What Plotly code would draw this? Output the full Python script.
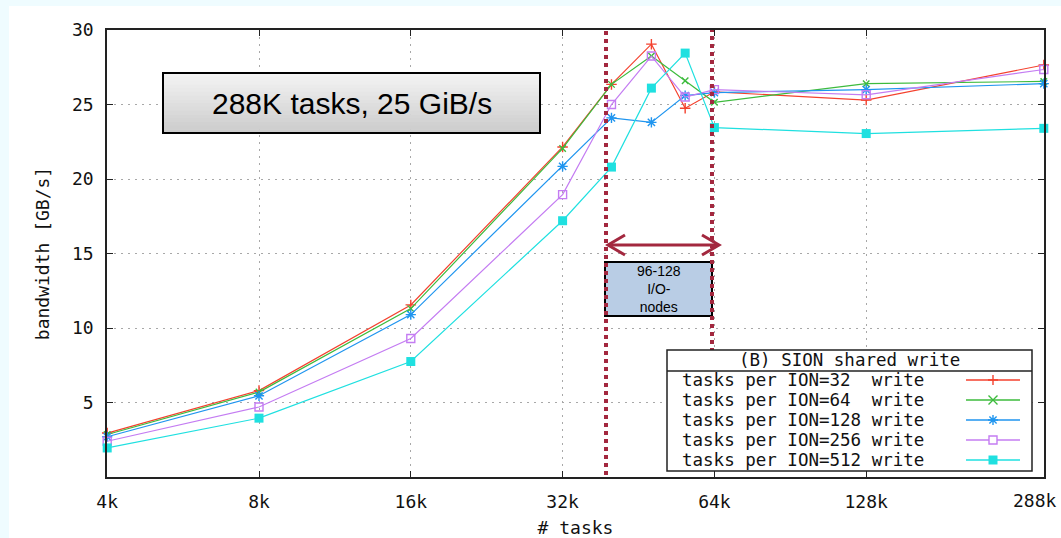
import math
import plotly.graph_objects as go

# ---------------- data ----------------
tasks = [4096, 8192, 16384, 32768, 40960, 49152, 57344, 65536, 131072, 294912]
tick_vals = [4096, 8192, 16384, 32768, 65536, 131072, 294912]
tick_text = ["4k", "8k", "16k", "32k", "64k", "128k", "288k"]
y_tick_vals = [5, 10, 15, 20, 25, 30]

ion32 = [2.95, 5.8, 11.55, 22.15, 26.35, 29.05, 24.75, 25.85, 25.3, 27.65]
ion64 = [2.85, 5.7, 11.3, 22.05, 26.35, 28.25, 26.6, 25.15, 26.4, 26.55]
ion128 = [2.7, 5.45, 10.9, 20.85, 24.1, 23.8, 25.6, 25.8, 26.0, 26.4]
ion256 = [2.4, 4.7, 9.3, 18.95, 25.0, 28.25, 25.5, 26.0, 25.65, 27.35]
ion512 = [1.95, 3.95, 7.75, 17.2, 20.8, 26.1, 28.45, 23.45, 23.05, 23.4]

series_labels = [
    "tasks per ION=32\u00a0\u00a0write",
    "tasks per ION=64\u00a0\u00a0write",
    "tasks per ION=128 write",
    "tasks per ION=256 write",
    "tasks per ION=512 write",
]
legend_title = "(B) SION shared write"
box_text = "288K tasks, 25 GiB/s"
io_text = "96-128<br>I/O-<br>nodes"
x_title = "# tasks"
y_title = "bandwidth [GB/s]"

# ---------------- style ----------------
colors = ["#f4412e", "#3dbb3d", "#1f95ef", "#c47cf2", "#1fe0e0"]
symbols = ["cross-thin-open", "x-thin-open", "asterisk-open", "square-open", "square"]
sizes = [7.5, 6.5, 8.5, 8, 9]
series = [ion32, ion64, ion128, ion256, ion512]

MONO = "DejaVu Sans Mono"
SANS = "Liberation Sans, Arial"
FIG_W, FIG_H = 1061, 538
L, R, T, B = 107, 1044, 30, 477
W, H = R - L, B - T


def px(x):
    return (x - L) / W


def py(y):
    return (B - y) / H


fig = go.Figure()
for vals, c, s, sz in zip(series, colors, symbols, sizes):
    filled = s == "square"
    fig.add_trace(go.Scatter(
        x=tasks, y=vals, mode="lines+markers", cliponaxis=False,
        line=dict(color=c, width=1.2),
        marker=dict(symbol=s, size=sz, color=c,
                    line=dict(color=c, width=0 if filled else 1.4)),
        showlegend=False, hoverinfo="x+y",
    ))

shapes = []
annotations = []

# white picture area on light cyan page
shapes.append(dict(type="rect", xref="paper", yref="paper", layer="below",
                   x0=px(9), x1=px(FIG_W + 2), y0=py(FIG_H + 2), y1=py(6),
                   fillcolor="white", line=dict(width=0)))

# gradient box "288K tasks"
bx0, bx1, by0, by1 = 163, 540, 73, 133
n = 16
for i in range(n):
    t = i / (n - 1)
    g = int(round(243 - t * (243 - 204)))
    ya = by0 + (by1 - by0) * i / n
    yb = by0 + (by1 - by0) * (i + 1) / n
    shapes.append(dict(type="rect", xref="paper", yref="paper", layer="above",
                       x0=px(bx0), x1=px(bx1), y0=py(yb + 0.6), y1=py(ya),
                       fillcolor=f"rgb({g},{g},{g})", line=dict(width=0)))
shapes.append(dict(type="rect", xref="paper", yref="paper", layer="above",
                   x0=px(bx0), x1=px(bx1), y0=py(by1), y1=py(by0),
                   line=dict(color="black", width=2)))
annotations.append(dict(xref="paper", yref="paper", x=px((bx0 + bx1) / 2), y=py(103),
                        text=box_text, showarrow=False, xanchor="center", yanchor="middle",
                        font=dict(family=SANS, size=30, color="black")))

# I/O nodes box
shapes.append(dict(type="rect", xref="paper", yref="paper", layer="above",
                   x0=px(605), x1=px(712), y0=py(316), y1=py(262),
                   fillcolor="#b9cde5", line=dict(color="black", width=2)))
annotations.append(dict(xref="paper", yref="paper", x=px(658.5), y=py(289),
                        text=io_text, showarrow=False, xanchor="center", yanchor="middle",
                        font=dict(family=SANS, size=14, color="black")))

# dark red dotted vertical lines
DR = "#a3283f"
shapes.append(dict(type="line", xref="paper", yref="paper", layer="above",
                   x0=px(606), x1=px(606), y0=py(B - 2), y1=py(T),
                   line=dict(color=DR, width=4, dash="4px,4px")))
shapes.append(dict(type="line", xref="paper", yref="paper", layer="above",
                   x0=px(712), x1=px(712), y0=py(352), y1=py(T),
                   line=dict(color=DR, width=4, dash="4px,4px")))

# double-headed arrow
ay = 245
shapes.append(dict(type="line", xref="paper", yref="paper", layer="above",
                   x0=px(609), x1=px(717), y0=py(ay), y1=py(ay),
                   line=dict(color=DR, width=3)))
shapes.append(dict(type="path", xref="paper", yref="paper", layer="above",
                   path=f"M{px(625)},{py(ay - 10)} L{px(608)},{py(ay)} L{px(625)},{py(ay + 10)}",
                   line=dict(color=DR, width=3)))
shapes.append(dict(type="path", xref="paper", yref="paper", layer="above",
                   path=f"M{px(702)},{py(ay - 10)} L{px(719)},{py(ay)} L{px(702)},{py(ay + 10)}",
                   line=dict(color=DR, width=3)))

# custom legend
lx0, lx1, ly0, ly1 = 667, 1032, 350, 471
LEG_FS = 17.5
shapes.append(dict(type="rect", xref="paper", yref="paper", layer="above",
                   x0=px(lx0), x1=px(lx1), y0=py(ly1), y1=py(ly0),
                   fillcolor="white", line=dict(color="#222", width=1.5)))
shapes.append(dict(type="line", xref="paper", yref="paper", layer="above",
                   x0=px(lx0), x1=px(lx1), y0=py(371), y1=py(371),
                   line=dict(color="#222", width=1.5)))
annotations.append(dict(xref="paper", yref="paper", x=px(849), y=py(360),
                        text=legend_title, showarrow=False, xanchor="center", yanchor="middle",
                        font=dict(family=MONO, size=LEG_FS, color="#111")))
rows = [380, 400, 420, 440, 460]
mx = 993
for lab, c, s, ry in zip(series_labels, colors, symbols, rows):
    annotations.append(dict(xref="paper", yref="paper", x=px(680), y=py(ry),
                            text=lab, showarrow=False, xanchor="left", yanchor="middle",
                            font=dict(family=MONO, size=LEG_FS, color="#111")))
    shapes.append(dict(type="line", xref="paper", yref="paper", layer="above",
                       x0=px(966), x1=px(1020), y0=py(ry), y1=py(ry),
                       line=dict(color=c, width=1.3)))
    if s.startswith("cross"):
        p = f"M{px(mx)},{py(ry - 5)} L{px(mx)},{py(ry + 5)} M{px(mx - 5)},{py(ry)} L{px(mx + 5)},{py(ry)}"
        shapes.append(dict(type="path", xref="paper", yref="paper", layer="above",
                           path=p, line=dict(color=c, width=1.4)))
    elif s.startswith("x-thin"):
        d = 4.5
        p = (f"M{px(mx - d)},{py(ry - d)} L{px(mx + d)},{py(ry + d)} "
             f"M{px(mx - d)},{py(ry + d)} L{px(mx + d)},{py(ry - d)}")
        shapes.append(dict(type="path", xref="paper", yref="paper", layer="above",
                           path=p, line=dict(color=c, width=1.4)))
    elif s.startswith("asterisk"):
        d, e = 3.6, 5
        p = (f"M{px(mx - d)},{py(ry - d)} L{px(mx + d)},{py(ry + d)} "
             f"M{px(mx - d)},{py(ry + d)} L{px(mx + d)},{py(ry - d)} "
             f"M{px(mx)},{py(ry - e)} L{px(mx)},{py(ry + e)} "
             f"M{px(mx - e)},{py(ry)} L{px(mx + e)},{py(ry)}")
        shapes.append(dict(type="path", xref="paper", yref="paper", layer="above",
                           path=p, line=dict(color=c, width=1.4)))
    elif s == "square-open":
        shapes.append(dict(type="rect", xref="paper", yref="paper", layer="above",
                           x0=px(mx - 4), x1=px(mx + 4), y0=py(ry + 4), y1=py(ry - 4),
                           fillcolor="white", line=dict(color=c, width=1.4)))
    else:
        shapes.append(dict(type="rect", xref="paper", yref="paper", layer="above",
                           x0=px(mx - 4.5), x1=px(mx + 4.5), y0=py(ry + 4.5), y1=py(ry - 4.5),
                           fillcolor=c, line=dict(width=0)))

# last x tick label placed inside the figure so it is not cut at the edge
axis_tick_text = tick_text[:-1] + [""]
annotations.append(dict(xref="paper", yref="paper", x=px(1059), y=py(501),
                        text=tick_text[-1], showarrow=False, xanchor="right", yanchor="middle",
                        font=dict(family=MONO, size=18, color="#111")))

axis_common = dict(
    ticks="inside", ticklen=6, tickwidth=1, tickcolor="#222",
    showline=True, linewidth=1.5, linecolor="#222", mirror="ticks",
    showgrid=True, gridcolor="#a8a8a8", griddash="2px,5px", gridwidth=1,
    zeroline=False, automargin=False, ticklabeloverflow="allow",
    tickfont=dict(family=MONO, size=18, color="#111"),
)

eps = 0.0004
fig.update_layout(
    width=FIG_W, height=FIG_H,
    margin=dict(l=L, r=FIG_W - R, t=T, b=FIG_H - B, pad=0),
    paper_bgcolor="#effcff", plot_bgcolor="white",
    showlegend=False,
    font=dict(family=MONO, size=18, color="#111"),
    xaxis=dict(type="log",
               range=[math.log10(tasks[0]) - eps, math.log10(tasks[-1]) + eps],
               tickmode="array", tickvals=tick_vals, ticktext=axis_tick_text,
               ticklabelstandoff=8,
               title=dict(text=x_title, standoff=10, font=dict(family=MONO, size=18)),
               **axis_common),
    yaxis=dict(range=[0, 30], tickmode="array", tickvals=y_tick_vals,
               ticklabelstandoff=8,
               title=dict(text=y_title, standoff=18, font=dict(family=MONO, size=18)),
               **axis_common),
    shapes=shapes, annotations=annotations,
)

fig.write_html("out.html",
               config={"displayModeBar": False},
               post_script="document.body.style.margin='0px';"
                           "document.body.style.background='#effcff';")
